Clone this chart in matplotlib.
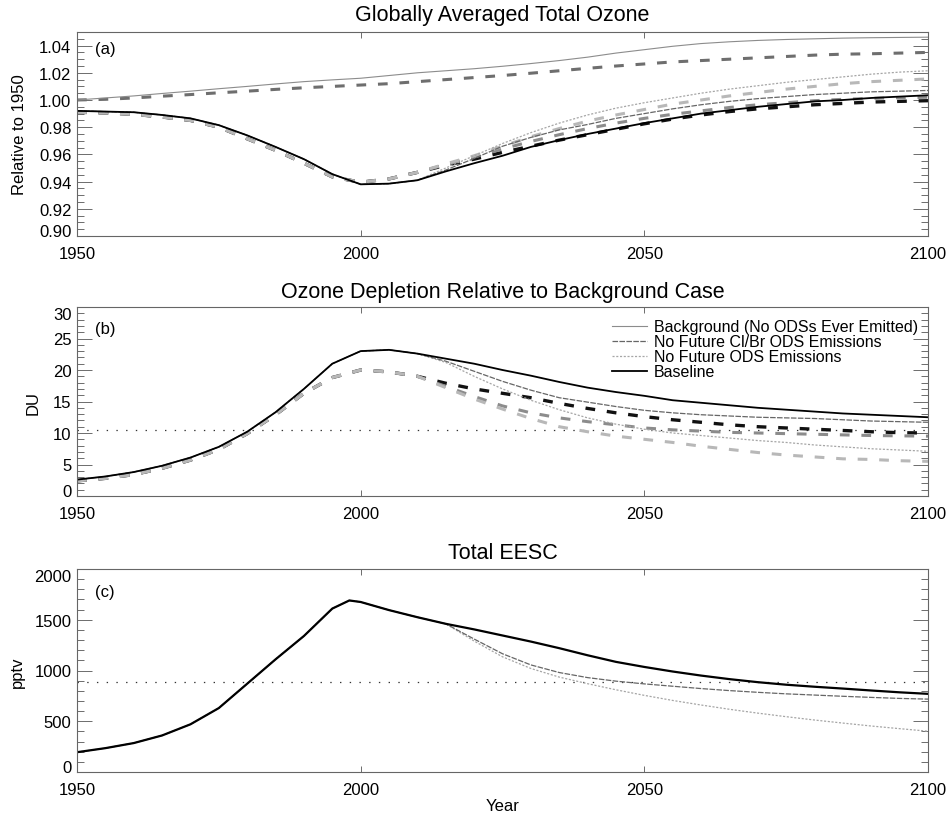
import numpy as np
import matplotlib
matplotlib.use("Agg")
import matplotlib.pyplot as plt
from matplotlib.lines import Line2D
from matplotlib.ticker import MultipleLocator, FormatStrFormatter

plt.rcParams['font.family'] = ['Liberation Sans', 'DejaVu Sans']
plt.rcParams['lines.scale_dashes'] = False

# ---- data ----
years = [1950, 1955, 1960, 1965, 1970, 1975, 1980, 1985, 1990, 1995, 2000, 2005, 2010,
         2015, 2020, 2025, 2030, 2035, 2040, 2045, 2050, 2055, 2060, 2065, 2070, 2075,
         2080, 2085, 2090, 2095, 2100]

# (a) total ozone relative to 1950
bg_a = [1.000, 1.0015, 1.003, 1.0048, 1.0065, 1.0083, 1.010, 1.0118, 1.0135, 1.0148, 1.016,
        1.018, 1.020, 1.0215, 1.023, 1.0248, 1.0268, 1.029, 1.0315, 1.0345, 1.037, 1.0395,
        1.0415, 1.0428, 1.0438, 1.0445, 1.045, 1.0455, 1.0458, 1.046, 1.0462]
bg_a_dash = [1.000, 1.0005, 1.0015, 1.0028, 1.004, 1.0053, 1.0065, 1.0078, 1.009, 1.010, 1.011,
             1.012, 1.0135, 1.015, 1.0165, 1.018, 1.0197, 1.0215, 1.0233, 1.025, 1.0265, 1.028,
             1.029, 1.030, 1.031, 1.032, 1.033, 1.0337, 1.034, 1.0345, 1.035]
early_a = [0.992, 0.9915, 0.991, 0.989, 0.9865, 0.9815, 0.974, 0.9655, 0.9565, 0.9455, 0.938,
           0.9385, 0.941]
early_a_dash = [0.991, 0.9905, 0.9895, 0.9875, 0.985, 0.980, 0.9715, 0.963, 0.9535, 0.9435,
                0.9395, 0.942, 0.9468]
base_a = [0.9475, 0.9535, 0.959, 0.9655, 0.9705, 0.975, 0.979, 0.983, 0.9865, 0.990, 0.9925,
          0.995, 0.997, 0.999, 1.000, 1.0015, 1.0025, 1.0035]
clbr_a = [0.9485, 0.957, 0.966, 0.9725, 0.978, 0.982, 0.9865, 0.990, 0.9935, 0.9965, 0.999,
          1.001, 1.0025, 1.004, 1.005, 1.006, 1.0065, 1.007]
ods_a = [0.950, 0.959, 0.968, 0.976, 0.983, 0.989, 0.994, 0.998, 1.0015, 1.005, 1.008, 1.0105,
         1.013, 1.015, 1.017, 1.019, 1.0205, 1.0215]
base_a_dash = [0.952, 0.9565, 0.9615, 0.966, 0.9705, 0.9745, 0.9785, 0.9825, 0.986, 0.989,
               0.9915, 0.9935, 0.995, 0.9965, 0.9975, 0.9985, 0.999, 0.9995]
clbr_a_dash = [0.9525, 0.958, 0.964, 0.9695, 0.9745, 0.979, 0.983, 0.9865, 0.9895, 0.992,
               0.9945, 0.9965, 0.998, 0.9995, 1.0005, 1.0012, 1.0017, 1.002]
ods_a_dash = [0.953, 0.959, 0.966, 0.973, 0.979, 0.9845, 0.989, 0.993, 0.997, 1.000, 1.003,
              1.0055, 1.008, 1.010, 1.012, 1.0135, 1.0145, 1.0155]

# (b) ozone depletion relative to background, DU
early_b = [2.6, 3.1, 3.8, 4.8, 6.1, 7.8, 10.2, 13.3, 17.0, 21.0, 23.0, 23.2, 22.6]
early_b_dash = [2.4, 2.8, 3.4, 4.4, 5.7, 7.4, 9.9, 12.9, 16.3, 18.8, 20.0, 19.7, 19.0]
base_b = [21.8, 21.0, 20.0, 19.1, 18.1, 17.2, 16.5, 15.9, 15.2, 14.8, 14.4, 14.0, 13.7, 13.4,
          13.1, 12.9, 12.7, 12.5]
clbr_b = [21.4, 19.8, 18.2, 16.8, 15.6, 14.9, 14.2, 13.6, 13.2, 12.9, 12.7, 12.5, 12.4, 12.3,
          12.1, 11.9, 11.8, 11.7]
ods_b = [21.2, 19.0, 17.0, 15.2, 13.7, 12.4, 11.4, 10.6, 10.0, 9.6, 9.2, 8.8, 8.5, 8.1, 7.8,
         7.5, 7.3, 7.1]
base_b_dash = [17.9, 17.0, 16.3, 15.6, 14.7, 13.9, 13.2, 12.6, 12.1, 11.7, 11.3, 11.0, 10.8,
               10.6, 10.4, 10.2, 10.05, 10.0]
clbr_b_dash = [17.4, 15.8, 14.3, 13.2, 12.4, 11.8, 11.3, 10.8, 10.5, 10.3, 10.1, 10.0, 9.9,
               9.8, 9.7, 9.6, 9.55, 9.5]
ods_b_dash = [17.2, 15.4, 13.8, 12.3, 11.0, 10.2, 9.5, 9.0, 8.5, 7.9, 7.4, 6.9, 6.5, 6.2, 5.9,
              5.8, 5.6, 5.5]
ref_b = 10.5  # 1980 level

# (c) total EESC, pptv
years_c = [1950, 1955, 1960, 1965, 1970, 1975, 1980, 1985, 1990, 1995, 1998, 2000, 2005, 2010,
           2015, 2020, 2025, 2030, 2035, 2040, 2045, 2050, 2055, 2060, 2065, 2070, 2075, 2080,
           2085, 2090, 2095, 2100]
early_c = [195, 235, 285, 360, 470, 630, 870, 1110, 1340, 1610, 1690, 1675, 1595, 1525, 1460]
base_c = [1405, 1345, 1285, 1220, 1150, 1085, 1035, 990, 950, 915, 885, 860, 840, 822, 803,
          785, 770]
clbr_c = [1310, 1165, 1055, 980, 930, 895, 868, 845, 822, 802, 785, 770, 758, 746, 735, 725,
          718]
ods_c = [1290, 1135, 1020, 935, 870, 810, 755, 705, 660, 618, 580, 545, 512, 482, 453, 427,
         402]
ref_c = 890

labels = ['Background (No ODSs Ever Emitted)', 'No Future Cl/Br ODS Emissions',
          'No Future ODS Emissions', 'Baseline']

# ---- styles ----
solid = {
    'bg': dict(color='#8c8c8c', lw=0.8),
    'clbr': dict(color='#666666', lw=0.9, ls=(0, (4, 1))),
    'ods': dict(color='#a6a6a6', lw=0.9, ls=(0, (1.5, 1.2))),
    'base': dict(color='black', lw=1.3),
}
dashed = {
    'bg': dict(color='#6e6e6e', lw=2.2, ls=(0, (7, 8.5))),
    'clbr': dict(color='#8c8c8c', lw=2.2, ls=(0, (7, 8.5))),
    'ods': dict(color='#b8b8b8', lw=2.2, ls=(0, (7, 8.5))),
    'base': dict(color='#111111', lw=2.4, ls=(0, (7, 8.5))),
}

W, H = 949, 820
fig = plt.figure(figsize=(W / 100, H / 100), dpi=100)


def add_axes(top, bottom):
    left, right = 77, 928
    return fig.add_axes([left / W, 1 - bottom / H, (right - left) / W, (bottom - top) / H])


def setup(ax, ylim, major, minor, fmt, title, tag, pad):
    ax.set_xlim(1950, 2100)
    ax.set_ylim(*ylim)
    ax.xaxis.set_major_locator(MultipleLocator(50))
    ax.yaxis.set_major_locator(MultipleLocator(major))
    ax.yaxis.set_minor_locator(MultipleLocator(minor))
    ax.yaxis.set_major_formatter(FormatStrFormatter(fmt))
    ax.tick_params(which='both', direction='in', top=True, right=True,
                   color='#555555', width=0.6, labelsize=12)
    ax.tick_params(axis='y', which='major', length=11, pad=4)
    ax.tick_params(axis='y', which='minor', length=5)
    ax.tick_params(axis='x', which='major', length=4, pad=7)
    for s in ax.spines.values():
        s.set_color('#666666')
        s.set_linewidth(0.8)
    ax.set_title(title, fontsize=15.5, pad=pad)
    ax.text(0.021, tag[1], tag[0], transform=ax.transAxes, fontsize=12, va='top')


yrs = np.array(years)
ax_a = add_axes(33, 237)
ax_b = add_axes(308, 497)
ax_c = add_axes(570, 773)

# panel (a): black dashed first so the shared early part shows grey
ax_a.plot(yrs, bg_a_dash, **dashed['bg'])
ax_a.plot(yrs, early_a_dash + base_a_dash, **dashed['base'])
ax_a.plot(yrs, early_a_dash + clbr_a_dash, **dashed['clbr'])
ax_a.plot(yrs, early_a_dash + ods_a_dash, **dashed['ods'])
ax_a.plot(yrs, bg_a, **solid['bg'])
ax_a.plot(yrs, early_a + ods_a, **solid['ods'])
ax_a.plot(yrs, early_a + clbr_a, **solid['clbr'])
ax_a.plot(yrs, early_a + base_a, **solid['base'])
setup(ax_a, (0.90, 1.05), 0.02, 0.005, '%.2f', 'Globally Averaged Total Ozone',
      ('(a)', 0.956), 9)

# panel (b)
ax_b.axhline(ref_b, color='#333333', lw=0.9, ls=(0, (1, 6)))
ax_b.plot(yrs, early_b_dash + base_b_dash, **dashed['base'])
ax_b.plot(yrs, early_b_dash + clbr_b_dash, **dashed['clbr'])
ax_b.plot(yrs, early_b_dash + ods_b_dash, **dashed['ods'])
ax_b.plot(yrs, early_b + ods_b, **solid['ods'])
ax_b.plot(yrs, early_b + clbr_b, **solid['clbr'])
ax_b.plot(yrs, early_b + base_b, **solid['base'])
setup(ax_b, (0, 30), 5, 1, '%d', 'Ozone Depletion Relative to Background Case',
      ('(b)', 0.926), 7)
handles = [Line2D([], [], **solid[k]) for k in ['bg', 'clbr', 'ods', 'base']]
ax_b.legend(handles, labels, loc='upper right', bbox_to_anchor=(0.988, 0.935),
            frameon=False, fontsize=11.5, labelspacing=0.0, handlelength=2.2,
            handletextpad=0.4, borderpad=0, borderaxespad=0)

# panel (c)
yc = np.array(years_c)
ax_c.axhline(ref_c, color='#333333', lw=0.9, ls=(0, (1, 6)))
ax_c.plot(yc, early_c + ods_c, **solid['ods'])
ax_c.plot(yc, early_c + clbr_c, **solid['clbr'])
ax_c.plot(yc, early_c + base_c, color='black', lw=1.6)
setup(ax_c, (0, 2000), 500, 100, '%d', 'Total EESC', ('(c)', 0.926), 8)

# edge tick labels pushed inside the axis range
fig.canvas.draw()
for ax in (ax_a, ax_b, ax_c):
    lo, hi = ax.get_ylim()
    for tick in ax.yaxis.get_major_ticks():
        v = tick.get_loc()
        if abs(v - lo) < 1e-6 * max(1, abs(hi)):
            tick.label1.set_verticalalignment('baseline')
        elif abs(v - hi) < 1e-6 * max(1, abs(hi)):
            tick.label1.set_verticalalignment('top')

fig.text(20 / W, 1 - 135 / H, 'Relative to 1950', rotation=90, ha='center', va='center',
         fontsize=12)
fig.text(33 / W, 1 - 403 / H, 'DU', rotation=90, ha='center', va='center', fontsize=12)
fig.text(17 / W, 1 - 672 / H, 'pptv', rotation=90, ha='center', va='center', fontsize=12)
fig.text(503 / W, 1 - 807 / H, 'Year', ha='center', va='center', fontsize=12)

fig.savefig('out.png', dpi=100)
